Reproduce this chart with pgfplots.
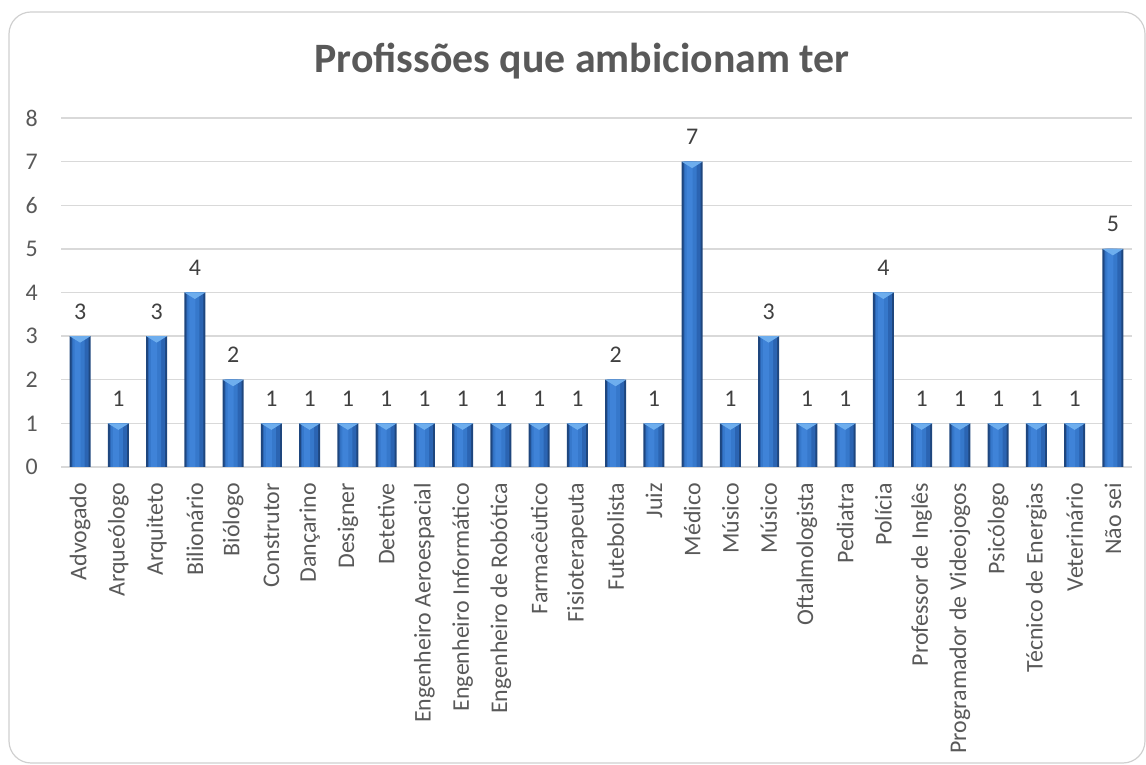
\documentclass[border=0pt]{standalone}
\usepackage{pgfplots}
\pgfplotsset{compat=1.18}
\usepackage{fontspec}
\setmainfont{Carlito}
\definecolor{txt}{HTML}{595959}
\definecolor{lbl}{HTML}{404040}
\definecolor{gridc}{HTML}{D9D9D9}
\definecolor{frame}{HTML}{D0D0D0}
\definecolor{barE}{HTML}{1E467E}
\definecolor{barA}{HTML}{2B64B2}
\definecolor{barB}{HTML}{3678CB}
\definecolor{barC}{HTML}{3F83D8}
\definecolor{bevel}{HTML}{6EAEEE}
\pgfdeclareplotmark{bevel}{%
 \pgfpathmoveto{\pgfqpoint{-10.5bp}{0bp}}%
 \pgfpathlineto{\pgfqpoint{10.5bp}{0bp}}%
 \pgfpathlineto{\pgfqpoint{0bp}{-6.5bp}}%
 \pgfpathclose\pgfusepathqfill}
\pgfplotstableread{
x y
0 3
1 1
2 3
3 4
4 2
5 1
6 1
7 1
8 1
9 1
10 1
11 1
12 1
13 1
14 2
15 1
16 7
17 1
18 3
19 1
20 1
21 4
22 1
23 1
24 1
25 1
26 1
27 5
}\datatable
\begin{document}
\begin{tikzpicture}[x=1bp,y=1bp]
\path[use as bounding box] (0,0) rectangle (1146,765);
\draw[frame, line width=1.2bp, rounded corners=22bp] (9,2) rectangle (1145,753);
\node[font=\fontsize{42}{48}\selectfont\bfseries, text=txt, anchor=base] at (582,692) {Profissões que ambicionam ter};
\begin{axis}[
  at={(61bp,298bp)}, anchor=south west,
  scale only axis, width=1071bp, height=349bp,
  xmin=-0.5, xmax=27.5, ymin=0, ymax=8,
  ytick={0,1,...,8},
  xtick={0,1,...,27},
  xticklabels={Advogado,Arqueólogo,Arquiteto,Bilionário,Biólogo,Construtor,Dançarino,Designer,Detetive,Engenheiro Aeroespacial,Engenheiro Informático,Engenheiro de Robótica,Farmacêutico,Fisioterapeuta,Futebolista,Juiz,Médico,Músico,Músico,Oftalmologista,Pediatra,Polícia,Professor de Inglês,Programador de Videojogos,Psicólogo,Técnico de Energias,Veterinário,Não sei},
  axis line style={draw=none},
  tick style={draw=none},
  ymajorgrids,
  major grid style={gridc, line width=1.3bp},
  /pgf/number format/assume math mode=true,
  yticklabel style={font=\fontsize{24}{28}\selectfont, text=txt, anchor=east, inner sep=0pt, xshift=-23bp},
  xticklabel style={font=\fontsize{24}{28}\selectfont, text=txt, yshift=-16bp, rotate=90, anchor=east, inner sep=0pt},
  clip=false,
]
\addplot[ybar, bar width=21bp, bar shift=0pt, draw=none, fill=barE,
  nodes near coords,
  every node near coord/.append style={font=\fontsize{24}{28}\selectfont, text=lbl, anchor=base, inner sep=0pt, yshift=17bp},
] table[x=x,y=y] {\datatable};
\addplot[ybar, bar width=17bp, bar shift=0pt, draw=none, fill=barA] table[x=x,y=y] {\datatable};
\addplot[ybar, bar width=12bp, bar shift=-1.5bp, draw=none, fill=barB] table[x=x,y=y] {\datatable};
\addplot[ybar, bar width=6bp, bar shift=-2.5bp, draw=none, fill=barC] table[x=x,y=y] {\datatable};
\addplot[only marks, mark=bevel, mark options={fill=bevel, draw=none}] table[x=x,y=y] {\datatable};
\end{axis}
\end{tikzpicture}
\end{document}
